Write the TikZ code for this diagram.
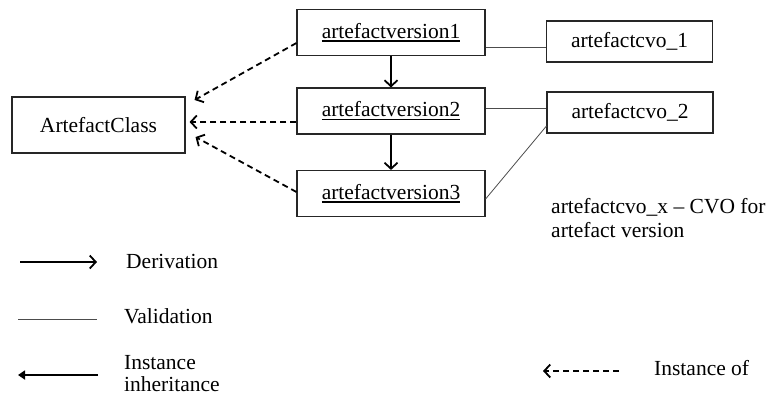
\documentclass[tikz,border=0pt]{standalone}
\usepackage{fontspec}
\setmainfont{Liberation Serif}
\usetikzlibrary{arrows.meta}
% underline drawn as a slightly heavier rule
\newcommand\myul[1]{\setbox0\hbox{#1}\rlap{\rule[-3.2pt]{\wd0}{1.3pt}}\box0}
\begin{document}
\begin{tikzpicture}[x=1pt,y=-1pt,
  every node/.style={font=\fontsize{21.5}{23}\selectfont},
  box/.style={draw=black!85,line width=1.1pt,inner sep=0pt},
  verbox/.style={box,minimum width=188pt,minimum height=46pt},
  cvobox/.style={box,minimum width=166pt,minimum height=41pt},
  lbl/.style={anchor=base west,inner sep=0pt,align=left},
  barb/.style={-{Straight Barb[length=6pt,width=13pt,line width=1.8pt]}},
  derive/.style={line width=1.8pt,barb},
  inherit/.style={line width=1.8pt,-{Triangle[length=7pt,width=9pt]}},
  instof/.style={line width=1.8pt,dash pattern=on 6pt off 4pt,barb},
  valid/.style={draw=black!70,line width=0.8pt}]
\useasboundingbox (0,0) rectangle (770,402);

% class and its versions
\node[box,minimum width=173pt,minimum height=56pt] (ac) at (98.5,125) {ArtefactClass};
\node[verbox] (v1) at (391,32.5) {\myul{artefactversion1}};
\node[verbox] (v2) at (391,111) {\myul{artefactversion2}};
\node[verbox] (v3) at (391,193.5) {\myul{artefactversion3}};

% CVO boxes
\node[cvobox] (c1) at (629.5,41.5) {artefactcvo\_1};
\node[cvobox] (c2) at (630,112.5) {artefactcvo\_2};

% derivation chain
\draw[derive] (v1.south) -- (v2.north);
\draw[derive] (v2.south) -- (v3.north);

% validation links
\draw[valid] ([yshift=-14.5pt]v1.east) -- ([yshift=-5.5pt]c1.west);
\draw[valid] ([yshift=3pt]v2.east) -- ([yshift=4.5pt]c2.west);
\draw[valid] ([yshift=-5.5pt]v3.east) -- ([yshift=-13.5pt]c2.west);

% instance-of links
\draw[instof] ([yshift=-10.5pt]v1.west) -- ([xshift=9pt,yshift=25pt]ac.east);
\draw[instof] ([yshift=-11pt]v2.west) -- ([xshift=4pt,yshift=3pt]ac.east);
\draw[instof] ([yshift=1.5pt]v3.west) -- ([xshift=10pt,yshift=-12pt]ac.east);

% note (base anchor sits on the last line)
\node[lbl,font=\fontsize{21.5}{24}\selectfont] (note) at (551,237) {artefactcvo\_x -- CVO for\\artefact version};

% legend
\coordinate (d1) at (20,262);
\coordinate (d2) at (97,262);
\draw[derive] (d1) -- (d2);
\node[lbl] (dl) at (126,268) {Derivation};

\coordinate (va1) at (18,319);
\coordinate (va2) at (97,319);
\draw[valid] (va1) -- (va2);
\node[lbl] (vl) at (124,323) {Validation};

\coordinate (i1) at (98,375);
\coordinate (i2) at (18,375);
\draw[inherit] (i1) -- (i2);
\node[lbl,font=\fontsize{21.5}{22}\selectfont] (il) at (124,391) {Instance\\inheritance};

\coordinate (o1) at (619,371);
\coordinate (o2) at (543,371);
\draw[instof] (o1) -- (o2);
\node[lbl] (ol) at (654,375) {Instance of};
\end{tikzpicture}
\end{document}
